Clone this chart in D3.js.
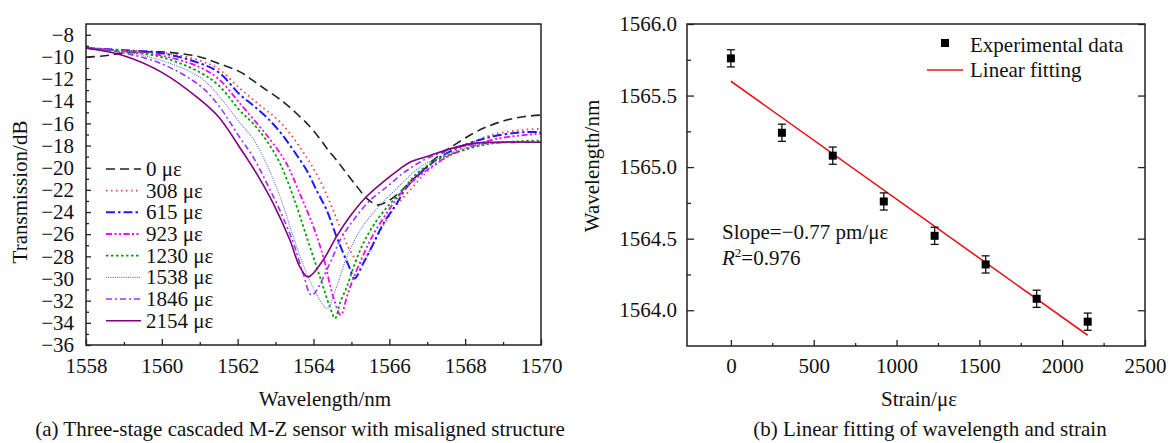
<!DOCTYPE html>
<html>
<head>
<meta charset="utf-8">
<script src="https://cdn.jsdelivr.net/npm/d3@7"></script>
<style>
  body { margin: 0; background: #fff; }
  text { font-family: "Liberation Serif", "Times New Roman", serif; fill: #111; }
</style>
</head>
<body>
<svg id="vis"></svg>
<script>
    // ---- data, panel (a): transmission spectra [wavelength nm, dB] ----
    const s0 = [[1558,-10.03],[1558.5,-9.9],[1559,-9.65],[1560,-9.55],[1560.5,-9.7],[1561,-10.0],[1561.5,-10.6],[1562.06,-11.35],[1562.59,-12.59],[1563.2,-14.05],[1563.56,-15.13],[1563.91,-16.31],[1564.17,-17.39],[1564.36,-18.29],[1564.62,-19.37],[1564.88,-20.54],[1565.15,-21.71],[1565.41,-22.79],[1565.7,-23.35],[1565.94,-23.06],[1566.28,-22.2],[1566.54,-21.3],[1566.9,-20.2],[1567.16,-19.3],[1567.51,-18.4],[1567.78,-17.8],[1568.21,-16.9],[1568.65,-16.2],[1569.09,-15.7],[1569.53,-15.4],[1570,-15.25]]
    const s308 = [[1558,-9.2],[1559,-9.4],[1560,-9.6],[1561,-10.33],[1561.5,-11.1],[1562.06,-12.85],[1562.59,-14.38],[1563.12,-15.88],[1563.64,-18.14],[1564.17,-21.14],[1564.7,-25.35],[1564.96,-27.45],[1565.24,-28.6],[1565.67,-26.2],[1565.93,-24.7],[1566.19,-23.4],[1566.54,-22.05],[1566.98,-20.4],[1567.51,-19.04],[1568.04,-17.99],[1568.65,-17.09],[1569.53,-16.58],[1570,-16.5]]
    const s615 = [[1558,-9.2],[1559,-9.4],[1560,-9.67],[1561,-10.57],[1561.5,-11.4],[1562.06,-13.4],[1562.41,-14.38],[1562.76,-15.43],[1563.12,-16.78],[1563.47,-18.43],[1563.82,-20.24],[1564.08,-22.04],[1564.35,-23.84],[1564.61,-26.25],[1564.79,-27.75],[1564.96,-29.1],[1565.08,-30.0],[1565.31,-28.65],[1565.58,-26.85],[1565.84,-25.05],[1566.19,-23.25],[1566.46,-21.75],[1566.9,-20.24],[1567.34,-19.04],[1567.95,-17.99],[1568.65,-17.24],[1569.53,-16.79],[1570,-16.79]]
    const s923 = [[1558,-9.2],[1559,-9.45],[1560,-9.88],[1561,-10.93],[1561.5,-12.0],[1562.06,-14.2],[1562.59,-16.33],[1562.94,-17.84],[1563.29,-19.64],[1563.64,-22.34],[1564.0,-25.35],[1564.26,-28.05],[1564.52,-31.65],[1564.72,-33.3],[1564.88,-31.65],[1565.05,-30.0],[1565.31,-27.9],[1565.58,-26.0],[1565.93,-24.1],[1566.19,-22.8],[1566.54,-21.44],[1566.98,-20.24],[1567.51,-19.04],[1568.13,-18.14],[1568.83,-17.39],[1569.89,-16.94],[1570,-16.9]]
    const s1230 = [[1558,-9.2],[1559,-9.5],[1560,-10.03],[1561,-11.38],[1561.5,-12.58],[1562.06,-14.85],[1562.41,-16.03],[1562.76,-17.54],[1563.12,-19.64],[1563.47,-22.64],[1563.82,-26.25],[1564.17,-29.85],[1564.43,-32.55],[1564.57,-33.6],[1564.7,-32.2],[1564.88,-30.75],[1565.09,-28.65],[1565.31,-26.85],[1565.58,-25.2],[1565.93,-23.6],[1566.28,-22.3],[1566.72,-20.54],[1567.15,-19.5],[1567.78,-18.6],[1568.65,-17.84],[1569.5,-17.6],[1570,-17.55]]
    const s1538 = [[1558,-9.2],[1559,-9.55],[1560,-10.33],[1561,-11.83],[1561.5,-13.5],[1562.06,-15.95],[1562.41,-17.39],[1562.76,-19.64],[1563.12,-22.64],[1563.47,-26.25],[1563.82,-29.55],[1564.17,-31.95],[1564.36,-32.7],[1564.61,-30.75],[1564.88,-28.05],[1565.23,-25.65],[1565.67,-23.7],[1566.1,-22.2],[1566.81,-19.94],[1567.34,-19.03],[1567.94,-18.3],[1568.65,-17.84],[1570,-17.7]]
    const s1846 = [[1558,-9.2],[1559,-9.65],[1560,-10.63],[1561,-12.58],[1561.5,-14.4],[1562.06,-17.3],[1562.41,-19.04],[1562.76,-21.35],[1563.12,-23.9],[1563.47,-26.8],[1563.73,-29.6],[1563.95,-31.5],[1564.43,-28.65],[1564.7,-26.55],[1565.05,-24.75],[1565.49,-22.95],[1565.93,-21.74],[1566.36,-20.5],[1566.89,-19.34],[1567.41,-18.59],[1568.05,-17.99],[1568.65,-17.77],[1570,-17.7]]
    const s2154 = [[1558,-9.2],[1559,-9.9],[1560,-11.4],[1561,-13.84],[1561.5,-15.43],[1562.06,-18.2],[1562.5,-20.54],[1562.94,-23.24],[1563.38,-26.55],[1563.64,-28.95],[1563.86,-29.85],[1564.25,-28.35],[1564.61,-26.2],[1564.96,-24.4],[1565.4,-22.6],[1565.83,-21.3],[1566.28,-20.1],[1566.54,-19.5],[1567.07,-18.9],[1567.6,-18.3],[1568.21,-17.8],[1568.65,-17.7],[1570,-17.7]]
    const spectra = [s0, s308, s615, s923, s1230, s1538, s1846, s2154]
    const spectraLabels = ['0 με', '308 με', '615 με', '923 με', '1230 με', '1538 με', '1846 με', '2154 με']
    const xTicksA = [1558, 1560, 1562, 1564, 1566, 1568, 1570]
    const yTicksA = [-36, -34, -32, -30, -28, -26, -24, -22, -20, -18, -16, -14, -12, -10, -8]

    // ---- data, panel (b): dip wavelength vs strain ----
    const strain = [0, 308, 615, 923, 1230, 1538, 1846, 2154]
    const dipWavelength = [1565.76, 1565.24, 1565.08, 1564.76, 1564.52, 1564.32, 1564.08, 1563.92]
    const dipError = [0.06, 0.06, 0.06, 0.06, 0.06, 0.06, 0.06, 0.06]
    const fitIntercept = 1565.60
    const fitSlope = -0.000824
    const xTicksB = [0, 500, 1000, 1500, 2000, 2500]
    const yTicksB = [1564.0, 1564.5, 1565.0, 1565.5, 1566.0]

    // line styles for the spectra
    const styles = [
        { color: '#222222', dash: '9,5', width: 1.6 },
        { color: '#ff3b3b', dash: '1.5,3.5', width: 1.8 },
        { color: '#1a1aff', dash: '9,3,2.5,3', width: 2 },
        { color: '#ff00ff', dash: '6,2.5,2,2.5,2,2.5', width: 1.8 },
        { color: '#00a000', dash: '2.5,2.5', width: 1.8 },
        { color: '#6a6adf', dash: '1,1.2', width: 1.1 },
        { color: '#9933ff', dash: '6,3,2,3', width: 1.6 },
        { color: '#800080', dash: null, width: 1.6 }
    ]

    let svg = d3.select('#vis')
        .attr('width', 1172)
        .attr('height', 443)

    const fs = 21

    // ================= panel (a) =================
    const A = { left: 86, right: 541, top: 24, bottom: 345 }
    let xA = d3.scaleLinear().domain([1558, 1570]).range([A.left, A.right])
    let yA = d3.scaleLinear().domain([-36, -7.03]).range([A.bottom, A.top])

    svg.append('clipPath').attr('id', 'clipA')
        .append('rect')
        .attr('x', A.left).attr('y', A.top)
        .attr('width', A.right - A.left).attr('height', A.bottom - A.top)

    let line = d3.line()
        .x(d => xA(d[0]))
        .y(d => yA(d[1]))
        .curve(d3.curveCatmullRom.alpha(0.5))

    svg.append('g').attr('clip-path', 'url(#clipA)')
        .selectAll('path')
        .data(spectra)
        .enter().append('path')
        .attr('d', d => line(d))
        .attr('fill', 'none')
        .attr('stroke', (d, i) => styles[i].color)
        .attr('stroke-width', (d, i) => styles[i].width)
        .attr('stroke-dasharray', (d, i) => styles[i].dash)

    // axes (ticks inward)
    svg.append('g')
        .attr('transform', `translate(0,${A.bottom})`)
        .call(d3.axisBottom(xA).tickValues(xTicksA).tickFormat(d3.format('d')).tickSize(-6).tickPadding(13))
    svg.append('g')
        .attr('transform', `translate(0,${A.bottom})`)
        .call(d3.axisBottom(xA).tickValues(d3.range(1559, 1570, 2)).tickFormat('').tickSize(-3))
    svg.append('g')
        .attr('transform', `translate(${A.left},0)`)
        .call(d3.axisLeft(yA).tickValues(yTicksA).tickFormat(d3.format('d')).tickSize(-5).tickPadding(12))
    svg.append('g')
        .attr('transform', `translate(${A.left},0)`)
        .call(d3.axisLeft(yA).tickValues(d3.range(-35, -7, 2)).tickFormat('').tickSize(-3))

    svg.append('rect')
        .attr('x', A.left).attr('y', A.top)
        .attr('width', A.right - A.left).attr('height', A.bottom - A.top)
        .attr('fill', 'none').attr('stroke', '#222').attr('stroke-width', 1.5)

    // legend
    let legA = svg.append('g')
    spectraLabels.forEach(function (lab, i) {
        let y = 169 + i * 21.67
        legA.append('line')
            .attr('x1', 106).attr('x2', 141).attr('y1', y).attr('y2', y)
            .attr('stroke', styles[i].color)
            .attr('stroke-width', styles[i].width)
            .attr('stroke-dasharray', styles[i].dash)
        legA.append('text')
            .attr('x', 146).attr('y', y + 7)
            .style('font-size', fs + 'px')
            .text(lab)
    })

    svg.append('text')
        .attr('transform', 'translate(27,192) rotate(-90)')
        .attr('text-anchor', 'middle')
        .style('font-size', fs + 'px')
        .text('Transmission/dB')

    svg.append('text')
        .attr('x', 325).attr('y', 406)
        .attr('text-anchor', 'middle')
        .style('font-size', fs + 'px')
        .text('Wavelength/nm')

    svg.append('text')
        .attr('x', 300).attr('y', 436)
        .attr('text-anchor', 'middle')
        .style('font-size', fs + 'px')
        .text('(a) Three-stage cascaded M-Z sensor with misaligned structure')

    // ================= panel (b) =================
    const B = { left: 687, right: 1145, top: 24, bottom: 346 }
    let xB = d3.scaleLinear().domain([-265, 2500]).range([B.left, B.right])
    let yB = d3.scaleLinear().domain([1563.75, 1566.0]).range([B.bottom, B.top])

    svg.append('g')
        .attr('transform', `translate(0,${B.bottom})`)
        .call(d3.axisBottom(xB).tickValues(xTicksB).tickFormat(d3.format('d')).tickSize(-6).tickPadding(12))
    svg.append('g')
        .attr('transform', `translate(0,${B.bottom})`)
        .call(d3.axisBottom(xB).tickValues(d3.range(250, 2500, 500)).tickFormat('').tickSize(-3))
    svg.append('g')
        .attr('transform', `translate(${B.left},0)`)
        .call(d3.axisLeft(yB).tickValues(yTicksB).tickFormat(d3.format('.1f')).tickSize(-7).tickPadding(10))
    svg.append('g')
        .attr('transform', `translate(${B.left},0)`)
        .call(d3.axisLeft(yB).tickValues(d3.range(1564.25, 1566, 0.5)).tickFormat('').tickSize(-4))
    svg.append('g')
        .attr('transform', `translate(${B.right},0)`)
        .call(d3.axisRight(yB).tickValues(yTicksB).tickFormat('').tickSize(-7))

    svg.selectAll('.domain').remove()
    svg.selectAll('.tick line').attr('stroke', '#222').attr('stroke-width', 1.3)
    svg.selectAll('.tick text')
        .style('font-size', fs + 'px')
        .style('font-family', '"Liberation Serif", serif')
        .attr('fill', '#111')

    svg.append('rect')
        .attr('x', B.left).attr('y', B.top)
        .attr('width', B.right - B.left).attr('height', B.bottom - B.top)
        .attr('fill', 'none').attr('stroke', '#222').attr('stroke-width', 1.5)

    // fit line
    let fitX = d3.extent(strain)
    svg.append('line')
        .attr('x1', xB(fitX[0])).attr('y1', yB(fitIntercept + fitSlope * fitX[0]))
        .attr('x2', xB(fitX[1])).attr('y2', yB(fitIntercept + fitSlope * fitX[1]))
        .attr('stroke', '#e8151b').attr('stroke-width', 1.6)

    // error bars + markers
    let pts = svg.append('g').selectAll('g')
        .data(strain)
        .enter().append('g')
    pts.append('line')
        .attr('x1', d => xB(d)).attr('x2', d => xB(d))
        .attr('y1', (d, i) => yB(dipWavelength[i] + dipError[i]))
        .attr('y2', (d, i) => yB(dipWavelength[i] - dipError[i]))
        .attr('stroke', '#111').attr('stroke-width', 1.3)
    pts.append('line')
        .attr('x1', d => xB(d) - 4).attr('x2', d => xB(d) + 4)
        .attr('y1', (d, i) => yB(dipWavelength[i] + dipError[i]))
        .attr('y2', (d, i) => yB(dipWavelength[i] + dipError[i]))
        .attr('stroke', '#111').attr('stroke-width', 1.3)
    pts.append('line')
        .attr('x1', d => xB(d) - 4).attr('x2', d => xB(d) + 4)
        .attr('y1', (d, i) => yB(dipWavelength[i] - dipError[i]))
        .attr('y2', (d, i) => yB(dipWavelength[i] - dipError[i]))
        .attr('stroke', '#111').attr('stroke-width', 1.3)
    pts.append('rect')
        .attr('x', d => xB(d) - 4).attr('y', (d, i) => yB(dipWavelength[i]) - 4)
        .attr('width', 8).attr('height', 8)
        .attr('fill', '#000')

    // legend (b)
    svg.append('rect').attr('x', 941).attr('y', 39).attr('width', 8).attr('height', 8).attr('fill', '#000')
    svg.append('text').attr('x', 970).attr('y', 52).style('font-size', fs + 'px').text('Experimental data')
    svg.append('line').attr('x1', 927).attr('x2', 963).attr('y1', 70).attr('y2', 70)
        .attr('stroke', '#e8151b').attr('stroke-width', 1.6)
    svg.append('text').attr('x', 970).attr('y', 77).style('font-size', fs + 'px').text('Linear fitting')

    svg.append('text').attr('x', 722).attr('y', 239).style('font-size', fs + 'px').text('Slope=−0.77 pm/με')
    let r2 = svg.append('text').attr('x', 722).attr('y', 265).style('font-size', fs + 'px')
    r2.append('tspan').style('font-style', 'italic').text('R')
    r2.append('tspan').attr('dy', -8).style('font-size', '13px').text('2')
    r2.append('tspan').attr('dy', 8).text('=0.976')

    svg.append('text')
        .attr('transform', 'translate(599,166) rotate(-90)')
        .attr('text-anchor', 'middle')
        .style('font-size', fs + 'px')
        .text('Wavelength/nm')

    svg.append('text')
        .attr('x', 919).attr('y', 406)
        .attr('text-anchor', 'middle')
        .style('font-size', fs + 'px')
        .text('Strain/με')

    svg.append('text')
        .attr('x', 930).attr('y', 436)
        .attr('text-anchor', 'middle')
        .style('font-size', fs + 'px')
        .text('(b) Linear fitting of wavelength and strain')
</script>
</body>
</html>
